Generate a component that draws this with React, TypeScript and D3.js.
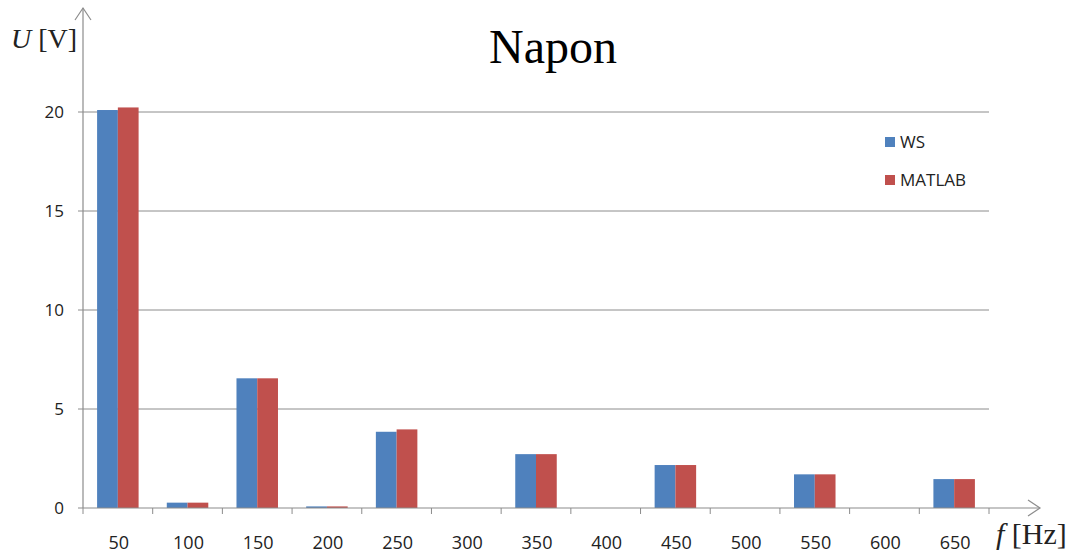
import * as React from "react";
import * as d3 from "d3";

const categories = ["50", "100", "150", "200", "250", "300", "350", "400", "450", "500", "550", "600", "650"];
const wsValues = [20.1, 0.27, 6.55, 0.08, 3.85, 0, 2.72, 0, 2.17, 0, 1.7, 0, 1.46];
const matlabValues = [20.23, 0.27, 6.55, 0.08, 3.97, 0, 2.72, 0, 2.17, 0, 1.7, 0, 1.46];
const yTicks = [0, 5, 10, 15, 20];
const seriesNames = ["WS", "MATLAB"];
const seriesColors = ["#4F81BD", "#C0504D"];

const W = 1068;
const H = 553;

export default function App() {
  const ref = React.useRef<SVGSVGElement>(null);

  React.useEffect(() => {
    const svg = d3.select(ref.current);
    svg.selectAll("*").remove();

    const x0 = 83, x1 = 989, y0 = 508;
    const x = d3.scaleBand().domain(categories).range([x0, x1]);
    const y = d3.scaleLinear().domain([0, 20]).range([y0, 112]);
    const inner = d3.scaleBand().domain(seriesNames).range([0, 41.5]);
    const innerOffset = (x.bandwidth() - 41.5) / 2;
    const tickFont = "'Open Sans', sans-serif";
    const serif = "'Liberation Serif', 'DejaVu Serif', serif";
    const axisColor = "#8c8c8c";

    // gridlines
    svg.append("g")
      .selectAll("line")
      .data(yTicks.filter(d => d > 0))
      .join("line")
      .attr("x1", x0 - 5).attr("x2", x1)
      .attr("y1", d => y(d)).attr("y2", d => y(d))
      .attr("stroke", axisColor).attr("stroke-width", 1);

    // y tick labels
    svg.append("g")
      .selectAll("text")
      .data(yTicks)
      .join("text")
      .attr("x", 64).attr("y", d => y(d) + 6)
      .attr("text-anchor", "end")
      .attr("font-family", tickFont).attr("font-size", 17).attr("fill", "#222")
      .text(d => d);

    // bars
    const groups = svg.append("g")
      .selectAll("g")
      .data(categories.map((c, i) => ({ c, vals: [wsValues[i], matlabValues[i]] })))
      .join("g")
      .attr("transform", d => `translate(${x(d.c)! + innerOffset},0)`);
    groups.selectAll("rect")
      .data(d => d.vals.map((v, j) => ({ v, j })))
      .join("rect")
      .attr("x", d => inner(seriesNames[d.j])!)
      .attr("width", inner.bandwidth())
      .attr("y", d => y(d.v))
      .attr("height", d => y0 - y(d.v))
      .attr("fill", d => seriesColors[d.j]);

    // y axis with arrow
    svg.append("line").attr("x1", x0).attr("x2", x0).attr("y1", y0).attr("y2", 8)
      .attr("stroke", axisColor).attr("stroke-width", 1.2);
    svg.append("path").attr("d", `M${x0 - 8},20 L${x0},8 L${x0 + 8},20`)
      .attr("fill", "none").attr("stroke", axisColor).attr("stroke-width", 1.2);

    // x axis with arrow
    svg.append("line").attr("x1", x0 - 5).attr("x2", 1040).attr("y1", y0).attr("y2", y0)
      .attr("stroke", axisColor).attr("stroke-width", 1.2);
    svg.append("path").attr("d", `M1028,${y0 - 8} L1040,${y0} L1028,${y0 + 8}`)
      .attr("fill", "none").attr("stroke", axisColor).attr("stroke-width", 1.2);
    svg.append("g")
      .selectAll("line")
      .data(d3.range(categories.length + 1))
      .join("line")
      .attr("x1", i => x0 + i * x.bandwidth()).attr("x2", i => x0 + i * x.bandwidth())
      .attr("y1", y0).attr("y2", y0 + 6)
      .attr("stroke", axisColor);

    // x tick labels
    svg.append("g")
      .selectAll("text")
      .data(categories)
      .join("text")
      .attr("x", d => x(d)! + x.bandwidth() / 2 + 1)
      .attr("y", 549)
      .attr("text-anchor", "middle")
      .attr("font-family", tickFont).attr("font-size", 18).attr("fill", "#222")
      .text(d => d);

    // title
    svg.append("text").attr("x", 553).attr("y", 63).attr("text-anchor", "middle")
      .attr("font-family", serif).attr("font-size", 48)
      .attr("fill", "#000").text("Napon");

    // axis titles
    const ut = svg.append("text").attr("x", 11).attr("y", 48)
      .attr("font-family", serif).attr("font-size", 28).attr("fill", "#222");
    ut.append("tspan").attr("font-style", "italic").text("U");
    ut.append("tspan").text(" [V]");
    const ft = svg.append("text").attr("x", 996).attr("y", 544)
      .attr("font-family", serif).attr("font-size", 30).attr("fill", "#222");
    ft.append("tspan").attr("font-style", "italic").text("f");
    ft.append("tspan").text(" [Hz]");

    // legend
    const leg = svg.append("g")
      .selectAll("g")
      .data(seriesNames)
      .join("g")
      .attr("transform", (d, i) => `translate(885,${137 + i * 38})`);
    leg.append("rect").attr("width", 10).attr("height", 10).attr("fill", (d, i) => seriesColors[i]);
    leg.append("text").attr("x", 15).attr("y", 11)
      .attr("font-family", tickFont).attr("font-size", 17).attr("fill", "#222")
      .text(d => d);
  }, []);

  return (
    <div style={{ position: "fixed", left: 0, top: 0, width: W, height: H, overflow: "hidden" }}>
      <svg ref={ref} width={W} height={H} style={{ display: "block", background: "#fff" }} />
    </div>
  );
}
